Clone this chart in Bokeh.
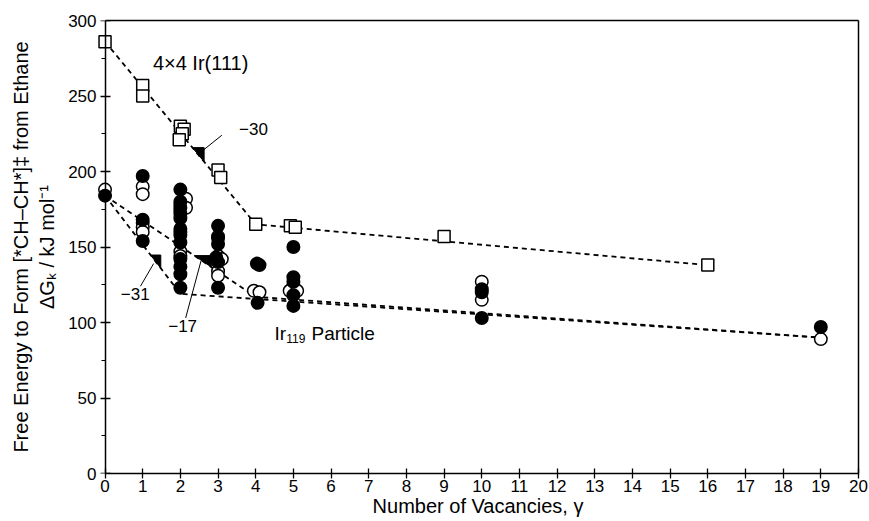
import numpy as np
from bokeh.plotting import figure
from bokeh.models import Range1d, LinearAxis, Label, FixedTicker
from bokeh.embed import file_html
from bokeh.resources import INLINE

FONT = "Liberation Sans"

# ---------------- data ----------------
x_ticks = list(range(0, 21))
y_ticks = [0, 50, 100, 150, 200, 250, 300]
y_minor_ticks = [25, 75, 125, 175, 225, 275]

# 4x4 Ir(111) slab (open squares)
slab_x = [0, 1, 1, 2.0, 2.1, 2.05, 1.97, 3.0, 3.07, 4.0, 4.92, 5.05, 9, 16]
slab_y = [286, 257, 250, 230, 228, 225, 221, 201, 196, 165, 164, 163, 157, 138]

# Ir119 particle, open circles
po_x = [0, 1, 1, 1, 1, 1, 2, 2, 2, 2, 2, 2.15, 2.15, 3, 3, 3.1, 3, 3,
        3.95, 4.1, 5, 4.9, 5.1, 10, 10, 19]
po_y = [188, 190, 185, 166, 163, 160, 178, 174, 160, 147, 144, 182, 176,
        157, 144, 142, 134, 131, 121, 120, 124, 121, 121, 127, 115, 89]

# Ir119 particle, filled circles
pf_x = [0, 1, 1, 1, 2, 2, 2, 2, 2, 2, 2, 2, 2, 2, 2, 2,
        3, 3, 3, 2.95, 3, 3, 4.03, 4.1, 4.05, 5, 5, 5, 5, 5, 10, 10, 10, 19]
pf_y = [184, 197, 168, 154, 188, 180, 176, 172, 169, 162, 158, 153, 142, 137, 132, 123,
        164, 156, 152, 143, 140, 123, 139, 138, 113, 150, 130, 127, 118, 111, 122, 120, 103, 97]

# dashed trend lines
slab_fit_x = [0, 4, 16]
slab_fit_y = [286, 165, 138]
fitA_x = [0, 4, 19]
fitA_y = [184, 117, 90]
fitB_x = [0, 2, 19]
fitB_y = [184, 119, 90]

# slope markers (label, which line, start x, width in x)
slope_text = ["\u221230", "\u221231", "\u221217"]
slope_line = ["slab", "B", "A"]
slope_x0 = [2.32, 1.21, 2.37]
slope_w = [0.31, 0.27, 0.45]
slope_lab_x = [3.94, 0.80, 2.06]
slope_lab_y = [228, 119, 98]
lead_x0 = [3.10, 0.94, 2.14]
lead_y0 = [224, 124, 103]
lead_x1 = [2.60, 1.29, 2.55]
lead_y1 = [214, 139, 141]

# ---------------- layout ----------------
W, H = 869, 521
ML, MR, MT, MB = 97, 11, 20, 48
X0, X1 = -0.2, 20
Y0, Y1 = 0, 300
FW = W - ML - MR
FH = H - MT - MB
PXX = FW / (X1 - X0)   # px per x unit
PXY = FH / (Y1 - Y0)   # px per y unit

p = figure(width=W, height=H, x_range=Range1d(X0, X1), y_range=Range1d(Y0, Y1),
           output_backend="svg", toolbar_location=None,
           min_border_left=ML, min_border_right=MR, min_border_top=MT, min_border_bottom=MB)
p.outline_line_color = None
p.grid.visible = False
p.background_fill_color = "white"
p.border_fill_color = "white"

xa = p.xaxis[0]
xa.ticker = FixedTicker(ticks=x_ticks)
xa.bounds = (0, 20)
xa.major_tick_in = 5
xa.major_tick_out = 5
xa.minor_tick_line_color = None
xa.axis_line_width = 1.5
xa.major_tick_line_width = 1.3
xa.major_label_text_font = FONT
xa.major_label_text_font_size = "17px"
xa.major_label_text_color = "black"
xa.major_label_standoff = 1
xa.axis_label = "Number of Vacancies, \u03b3"
xa.axis_label_text_font = FONT
xa.axis_label_text_font_size = "20px"
xa.axis_label_text_font_style = "normal"
xa.axis_label_text_color = "black"
xa.axis_label_standoff = 0

# left axis carrying tick labels and title (at frame edge)
ya = p.yaxis[0]
ya.ticker = FixedTicker(ticks=y_ticks)
ya.axis_line_color = None
ya.major_tick_line_color = None
ya.minor_tick_line_color = None
ya.major_tick_in = 0
ya.major_tick_out = 0
ya.minor_tick_in = 0
ya.minor_tick_out = 0
ya.major_label_text_font = FONT
ya.major_label_text_font_size = "17px"
ya.major_label_text_color = "black"
ya.major_label_standoff = 1
ya.axis_label = "Free Energy to Form [*CH\u2013CH*]\u2021 from Ethane\n\u0394G\u2096 / kJ mol\u207b\u00b9"
ya.axis_label_text_font = FONT
ya.axis_label_text_font_size = "20px"
ya.axis_label_text_font_style = "normal"
ya.axis_label_text_color = "black"
ya.axis_label_standoff = 7

# y axis line and ticks at x = 0
y0axis = LinearAxis(ticker=FixedTicker(ticks=y_ticks, minor_ticks=y_minor_ticks),
                    fixed_location=0, bounds=(0, 300), axis_line_width=1.5,
                    major_tick_in=5, major_tick_out=5, minor_tick_in=0, minor_tick_out=4,
                    major_tick_line_width=1.3, minor_tick_line_width=1.0,
                    major_label_text_font_size="0px", major_label_text_color=None)
p.add_layout(y0axis, "left")

top = LinearAxis(ticker=FixedTicker(ticks=[]), bounds=(0, 20), axis_line_width=1.5,
                 major_tick_line_color=None, minor_tick_line_color=None,
                 major_label_text_font_size="0px")
p.add_layout(top, "above")
right = LinearAxis(ticker=FixedTicker(ticks=[]), bounds=(0, 300), axis_line_width=1.5,
                   major_tick_line_color=None, minor_tick_line_color=None,
                   major_label_text_font_size="0px")
p.add_layout(right, "right")

DASH = "5 4"
p.line(slab_fit_x, slab_fit_y, line_color="black", line_width=1.8, line_dash=DASH)
p.line(fitA_x, fitA_y, line_color="black", line_width=1.8, line_dash=DASH)
p.line(fitB_x, fitB_y, line_color="black", line_width=1.8, line_dash=DASH)

# slope triangles, hypotenuse on the trend lines
lines = {"slab": (slab_fit_x, slab_fit_y), "A": (fitA_x, fitA_y), "B": (fitB_x, fitB_y)}
tri_xs, tri_ys = [], []
for name, x0, w in zip(slope_line, slope_x0, slope_w):
    lx, ly = lines[name]
    ya0 = float(np.interp(x0, lx, ly))
    ya1 = float(np.interp(x0 + w, lx, ly))
    tri_xs.append([x0, x0 + w, x0 + w])
    tri_ys.append([ya0, ya0, ya1])
p.patches(tri_xs, tri_ys, fill_color="black", line_color="black", line_width=1)
p.segment(lead_x0, lead_y0, lead_x1, lead_y1, line_color="black", line_width=1)

p.scatter(slab_x, slab_y, marker="square", size=12, fill_color="white",
          line_color="black", line_width=1.5)
p.scatter(po_x, po_y, marker="circle", size=12.5, fill_color="white",
          line_color="black", line_width=1.5)
p.scatter(pf_x, pf_y, marker="circle", size=12.5, fill_color="black",
          line_color="black", line_width=1.5)

for t, lx, ly in zip(slope_text, slope_lab_x, slope_lab_y):
    p.add_layout(Label(x=lx, y=ly, text=t, text_font=FONT, text_font_size="17px",
                       text_align="center", text_baseline="middle", text_color="black"))

p.add_layout(Label(x=1.27, y=272, text="4\u00d74 Ir(111)", text_font=FONT,
                   text_font_size="20px", text_baseline="middle", text_color="black"))

# Ir119 Particle
ANN = 19
ir_x = 4.5
ir_y = 92.5
p.add_layout(Label(x=ir_x, y=ir_y, text="Ir", text_font=FONT, text_font_size=f"{ANN}px",
                   text_baseline="middle", text_color="black"))
sx = ir_x + (0.611 * ANN) / PXX
p.add_layout(Label(x=sx, y=ir_y - 5 / PXY, text="119", text_font=FONT, text_font_size="12px",
                   text_baseline="middle", text_color="black"))
sx2 = sx + (1.668 * 12 + 0.278 * ANN) / PXX
p.add_layout(Label(x=sx2, y=ir_y, text="Particle", text_font=FONT, text_font_size=f"{ANN}px",
                   text_baseline="middle", text_color="black"))

open("out.html", "w").write(file_html(p, INLINE))
